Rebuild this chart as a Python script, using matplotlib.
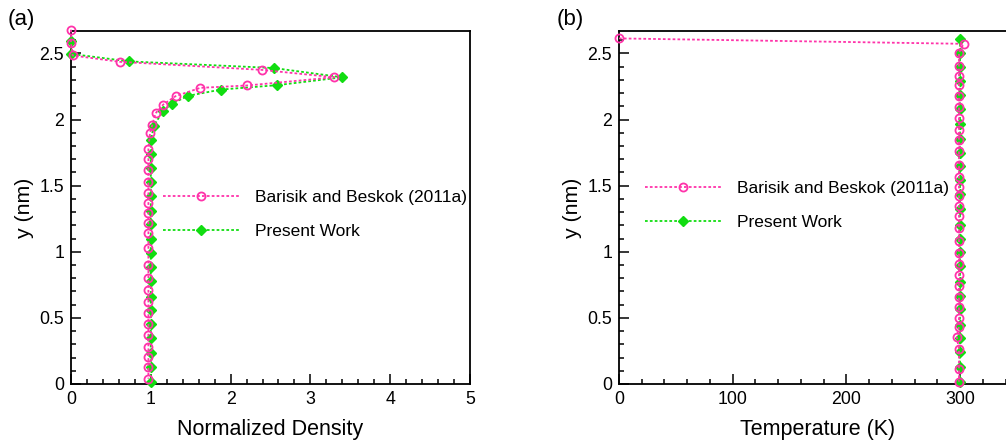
import matplotlib
matplotlib.use("Agg")
import matplotlib.pyplot as plt
from matplotlib.ticker import MultipleLocator, FuncFormatter

plt.rcParams['font.family'] = ['Liberation Sans', 'DejaVu Sans']

# ---- Panel (a): normalized density ----
bb_a_x = [0.0, 0.0, 0.02, 0.61, 2.39, 3.30, 2.21, 1.62, 1.31, 1.157, 1.06, 1.02, 0.99,
          0.97, 0.97, 0.97, 0.97, 0.97, 0.97, 0.97, 0.97, 0.97, 0.97, 0.97, 0.97, 0.97,
          0.97, 0.97, 0.97, 0.97, 0.97, 0.97, 0.97, 0.97]
bb_a_y = [2.68, 2.58, 2.485, 2.437, 2.376, 2.32, 2.258, 2.24, 2.177, 2.114, 2.048, 1.962, 1.899,
          1.78, 1.70, 1.616, 1.525, 1.444, 1.37, 1.293, 1.217, 1.141, 1.028, 0.90, 0.80,
          0.712, 0.624, 0.535, 0.455, 0.371, 0.283, 0.207, 0.131, 0.04]
pw_a_x = [0.0, 0.0, 0.73, 2.54, 3.40, 2.58, 1.88, 1.47, 1.26, 1.15, 1.04, 1.0, 1.0, 1.0,
          1.0, 1.0, 1.0, 1.0, 1.0, 1.0, 1.0, 1.0, 1.0, 1.0, 1.0, 1.0, 1.0, 1.0, 1.0]
pw_a_y = [2.593, 2.497, 2.44, 2.39, 2.32, 2.26, 2.227, 2.18, 2.119, 2.063, 1.955, 1.848, 1.74,
          1.631, 1.525, 1.424, 1.31, 1.21, 1.096, 0.99, 0.884, 0.78, 0.66, 0.56, 0.455,
          0.351, 0.237, 0.131, 0.018]

# ---- Panel (b): temperature ----
bb_b_x = [0, 303, 299, 299, 299, 299, 299, 299, 299, 299, 299, 299, 299, 299, 299, 299,
          299, 299, 299, 299, 299, 299, 299, 299, 299, 299, 299, 299, 297, 299, 299, 299]
bb_b_y = [2.614, 2.573, 2.505, 2.404, 2.333, 2.258, 2.177, 2.096, 2.013, 1.924, 1.843, 1.76,
          1.654, 1.566, 1.487, 1.42, 1.35, 1.273, 1.18, 1.078, 0.99, 0.909, 0.826, 0.742,
          0.661, 0.581, 0.50, 0.434, 0.354, 0.265, 0.111, 0.018]
pw_b_x = [300] * 25
pw_b_y = [2.611, 2.505, 2.399, 2.29, 2.184, 2.078, 1.965, 1.856, 1.75, 1.649, 1.54, 1.434,
          1.323, 1.205, 1.096, 0.995, 0.889, 0.775, 0.669, 0.568, 0.447, 0.351, 0.24,
          0.126, 0.018]

labels = ["Barisik and Beskok (2011a)", "Present Work"]
PINK = "#ff33aa"
GREEN = "#11dd11"

fig = plt.figure(figsize=(10.06, 4.40), dpi=100)
W, H = 1006, 440
ax1 = fig.add_axes([71 / W, 1 - 384 / H, 399 / W, 353 / H])
ax2 = fig.add_axes([619 / W, 1 - 384 / H, 398 / W, 353 / H])

fmt = FuncFormatter(lambda v, p: "%g" % v)


def style(ax, xlim, xmaj, xmin):
    ax.set_xlim(*xlim)
    ax.set_ylim(0, 2.67)
    ax.xaxis.set_major_locator(MultipleLocator(xmaj))
    ax.xaxis.set_minor_locator(MultipleLocator(xmin))
    ax.yaxis.set_major_locator(MultipleLocator(0.5))
    ax.yaxis.set_minor_locator(MultipleLocator(0.1))
    ax.xaxis.set_major_formatter(fmt)
    ax.yaxis.set_major_formatter(fmt)
    ax.tick_params(which='both', direction='in', top=False, right=False,
                   labelsize=12.8, width=1.1, pad=5)
    ax.tick_params(which='major', length=7)
    ax.tick_params(which='minor', length=3.5)
    for s in ax.spines.values():
        s.set_linewidth(1.3)
    ax.set_ylabel("y (nm)", fontsize=15.3, labelpad=4)


for ax, (bx, by, px, py) in [(ax1, (bb_a_x, bb_a_y, pw_a_x, pw_a_y)),
                             (ax2, (bb_b_x, bb_b_y, pw_b_x, pw_b_y))]:
    ax.plot(px, py, color=GREEN, linestyle=(0, (1.5, 1.2)), linewidth=1.3,
            marker='D', markersize=5.5, markerfacecolor=GREEN, markeredgecolor=GREEN,
            label=labels[1], clip_on=False, zorder=3)
    ax.plot(bx, by, color=PINK, linestyle=(0, (1.5, 1.2)), linewidth=1.3,
            marker='o', markersize=5.8, markerfacecolor='none', markeredgecolor=PINK,
            markeredgewidth=1.3, label=labels[0], clip_on=False, zorder=4)

style(ax1, (0, 5), 1, 0.2)
style(ax2, (0, 350), 100, 20)
ax1.set_xlabel("Normalized Density", fontsize=15.5, labelpad=8)
ax2.set_xlabel("Temperature (K)", fontsize=15.5, labelpad=8)

for ax, anchor in [(ax1, (0.23, 0.55)), (ax2, (0.065, 0.575))]:
    h, l = ax.get_legend_handles_labels()
    ax.legend(h[::-1], l[::-1], loc='upper left', bbox_to_anchor=anchor, frameon=False,
              fontsize=12.5, handlelength=4.4, handletextpad=0.9, labelspacing=1.1,
              borderpad=0, borderaxespad=0, numpoints=1)

fig.text(8 / W, 1 - 20 / H, "(a)", fontsize=16, va='center', ha='left')
fig.text(557 / W, 1 - 20 / H, "(b)", fontsize=16, va='center', ha='left')

fig.savefig("out.png", dpi=100)
